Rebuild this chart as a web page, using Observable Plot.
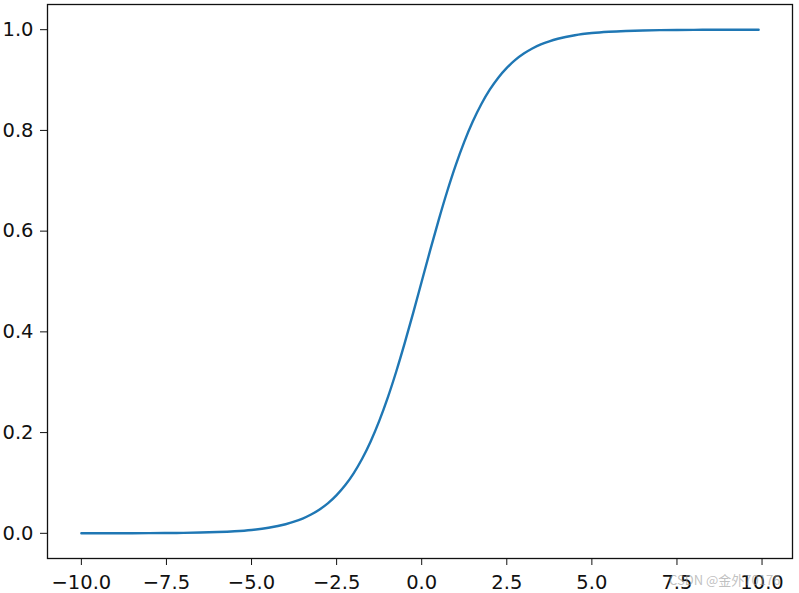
<!DOCTYPE html>
<html>
<head>
<meta charset="utf-8">
<script src="https://cdn.jsdelivr.net/npm/d3@7"></script>
<script src="https://cdn.jsdelivr.net/npm/@observablehq/plot@0.6"></script>
<style>
  html, body { margin: 0; padding: 0; background: #fff; }
  #wrap { position: relative; width: 799px; height: 593px; }
  #wm { position: absolute; left: 669px; top: 570px; font: 13px "Noto Sans CJK SC", "DejaVu Sans", sans-serif; color: rgba(150,150,150,0.6); white-space: nowrap; }
</style>
</head>
<body>
<div id="wrap"><div id="chart"></div><div id="wm">CSDN @金外70176</div></div>
<script>
// x positions and read-off curve values
const xValues = [-10, -9.5, -9, -8.5, -8, -7.5, -7, -6.5, -6, -5.5, -5, -4.5, -4, -3.75, -3.5, -3.25, -3, -2.75, -2.5, -2.25, -2, -1.75, -1.5, -1.25, -1, -0.75, -0.5, -0.25, 0, 0.25, 0.5, 0.75, 1, 1.25, 1.5, 1.75, 2, 2.25, 2.5, 2.75, 3, 3.25, 3.5, 3.75, 4, 4.5, 5, 5.5, 6, 6.5, 7, 7.5, 8, 8.5, 9, 9.5, 9.9];
const yValues = [0.00005, 0.00007, 0.00012, 0.0002, 0.00034, 0.00055, 0.0009, 0.0015, 0.0025, 0.0041, 0.0067, 0.011, 0.018, 0.023, 0.0293, 0.0373, 0.0474, 0.060, 0.0759, 0.0953, 0.1192, 0.148, 0.1824, 0.2227, 0.2689, 0.3208, 0.3775, 0.4378, 0.500, 0.5622, 0.6225, 0.6792, 0.7311, 0.7773, 0.8176, 0.852, 0.8808, 0.9047, 0.9241, 0.940, 0.9526, 0.9627, 0.9707, 0.977, 0.982, 0.989, 0.9933, 0.9959, 0.9975, 0.9985, 0.9991, 0.99945, 0.99966, 0.9998, 0.99988, 0.99993, 0.99995];
const xTicks = [-10, -7.5, -5, -2.5, 0, 2.5, 5, 7.5, 10];
const yTicks = [0, 0.2, 0.4, 0.6, 0.8, 1.0];

const data = xValues.map((x, i) => ({x, y: yValues[i]}));
const fmt = d => d.toFixed(1).replace("-", "\u2212");

const chart = Plot.plot({
  width: 799,
  height: 593,
  marginLeft: 47,
  marginRight: 7,
  marginTop: 4,
  marginBottom: 35,
  style: {fontFamily: "DejaVu Sans", fontSize: "19.5px", color: "#111", background: "white"},
  x: {domain: [-10.995, 10.895]},
  y: {domain: [-0.05, 1.05]},
  marks: [
    Plot.line(data, {x: "x", y: "y", stroke: "#1f77b4", strokeWidth: 2.4, curve: "monotone-x"}),
    Plot.frame({stroke: "#111", strokeWidth: 1.3}),
    Plot.axisX({ticks: xTicks, tickFormat: fmt, tickSize: 7, tickPadding: 10, label: null, fontSize: 19.5}),
    Plot.axisY({ticks: yTicks, tickFormat: fmt, tickSize: 7, tickPadding: 7, label: null, fontSize: 19.5})
  ]
});
document.getElementById("chart").appendChild(chart);
</script>
</body>
</html>
